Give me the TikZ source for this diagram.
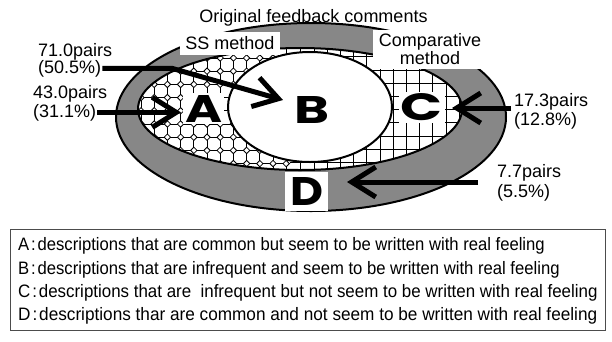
\documentclass[tikz,border=0pt]{standalone}
\usepackage{fontspec}
\setmainfont{Liberation Sans}
\newfontfamily\bigletter{Poppins}
\usetikzlibrary{arrows.meta}
\definecolor{band}{gray}{0.53}
\definecolor{frameline}{gray}{0.3}
% big region letters, stretched to a fixed width and height
\newcommand{\letterbox}[3]{\resizebox{#1pt}{#2pt}{\bigletter\bfseries #3}}
% legend lines are set slightly condensed
\newcommand{\legline}[2]{\scalebox{#1}[1]{#2}}
\tikzset{
  pairtext/.style={anchor=base west, inner sep=1pt},
  tagbox/.style={fill=white, inner sep=0pt},
  bigtag/.style={fill=white, inner sep=2pt},
  legtext/.style={anchor=base west, inner sep=0pt},
  arrowline/.style={line width=5pt, -{Straight Barb[length=24pt, width=30pt]}},
  rim/.style={line width=2pt},
}
\begin{document}
\begin{tikzpicture}[x=1pt, y=-1pt, font=\fontsize{18}{18.5}\selectfont]
\useasboundingbox (0,0) rectangle (612,341);
\fill[white] (0,0) rectangle (612,341);

% outer set: all feedback comments (grey band)
\filldraw[rim, fill=band] (311,117) ellipse [x radius=195pt, y radius=94pt];
% inner set
\fill[white] (300,109) ellipse [x radius=162pt, y radius=61pt];

% octagon hatching on the left part
\begin{scope}
  \clip (300,109) ellipse [x radius=162pt, y radius=61pt];
  \clip (120,30) rectangle (290,190);
  \foreach \k in {0,...,12} {
    \draw[line width=0.8pt] ({141+\k*13.2},30) -- ({141+\k*13.2},190);
  }
  \foreach \k in {0,...,11} {
    \draw[line width=0.8pt] (120,{31.6+\k*13.2}) -- (300,{31.6+\k*13.2});
  }
  \foreach \i in {0,...,12} {
    \foreach \j in {0,...,11} {
      \filldraw[line width=0.8pt, fill=white] ({141+\i*13.2},{31.6+\j*13.2})
        +(-3.2,0) -- +(0,-3.2) -- +(3.2,0) -- +(0,3.2) -- cycle;
    }
  }
\end{scope}

% square grid hatching on the right part
\begin{scope}
  \clip (300,109) ellipse [x radius=162pt, y radius=61pt];
  \clip (290,30) rectangle (480,190);
  \foreach \k in {-8,...,8} {
    \draw[line width=0.8pt] ({380+\k*13.2},30) -- ({380+\k*13.2},190);
  }
  \foreach \k in {-4,...,10} {
    \draw[line width=0.8pt] (280,{70+\k*13.2}) -- (480,{70+\k*13.2});
  }
\end{scope}

\draw[rim] (300,109) ellipse [x radius=162pt, y radius=61pt];
% centre set B
\filldraw[rim, fill=white] (310,107) ellipse [x radius=82pt, y radius=55pt];

% headings
\node[anchor=base, inner sep=1pt] (title) at (313.5,22) {Original feedback comments};
\node[tagbox, minimum width=100pt, minimum height=23pt] (ssm) at (230,43.5) {SS method};
\node[tagbox, align=center, minimum width=114pt, minimum height=39pt] (cmp) at (430,49) {Comparative\\method};

% region letters
\node[bigtag] (letA) at (203.5,108.5) {\letterbox{37}{27}{A}};
\node[inner sep=0pt] (letB) at (311.5,109.5) {\letterbox{35}{27}{B}};
\node[bigtag] (letC) at (421.5,107.5) {\letterbox{42}{27}{C}};
\node[tagbox, minimum width=43pt, minimum height=39pt] (letD) at (306.5,191.5) {\letterbox{33}{28}{D}};

% counts
\node[pairtext] (p710) at (37,56) {71.0pairs};
\node[pairtext] (p505) at (37,73) {(50.5\%)};
\node[pairtext] (p430) at (32,98) {43.0pairs};
\node[pairtext] (p311) at (32,117) {(31.1\%)};
\node[pairtext] (p173) at (513,106) {17.3pairs};
\node[pairtext] (p128) at (513,125) {(12.8\%)};
\node[pairtext] (p77) at (496,177) {7.7pairs};
\node[pairtext] (p55) at (496,197) {(5.5\%)};

% arrows
\coordinate (bendB) at (172,68);
\coordinate (tipB) at (283,100);
\coordinate (tipA) at (181,107);
\coordinate (tailC) at (511,108);
\coordinate (tipC) at (452,108);
\coordinate (tailD) at (478,182);
\coordinate (tipD) at (347,182);
\draw[arrowline] (p505.east) -- (p505.east -| bendB) -- (tipB);
\draw[arrowline] (p311.east) -- (p311.east -| tipA);
\draw[arrowline] (tailC) -- (tipC);
\draw[arrowline] (tailD) -- (tipD);

% legend
\draw[frameline, line width=1pt] (10,229) rectangle (605,330);
\node[legtext] (lgA) at (18,250) {\legline{0.925}{A\hspace{2pt}:\hspace{2pt}descriptions that are common but seem to be written with real feeling}};
\node[legtext] (lgB) at (18,274) {\legline{0.925}{B\hspace{2pt}:\hspace{2pt}descriptions that are infrequent and seem to be written with real feeling}};
\node[legtext] (lgC) at (18,297) {\legline{0.94}{C\hspace{2pt}:\hspace{2pt}descriptions that are~ infrequent but not seem to be written with real feeling}};
\node[legtext] (lgD) at (18,320) {\legline{0.955}{D\hspace{2pt}:\hspace{2pt}descriptions thar are common and not seem to be written with real feeling}};
\end{tikzpicture}
\end{document}
